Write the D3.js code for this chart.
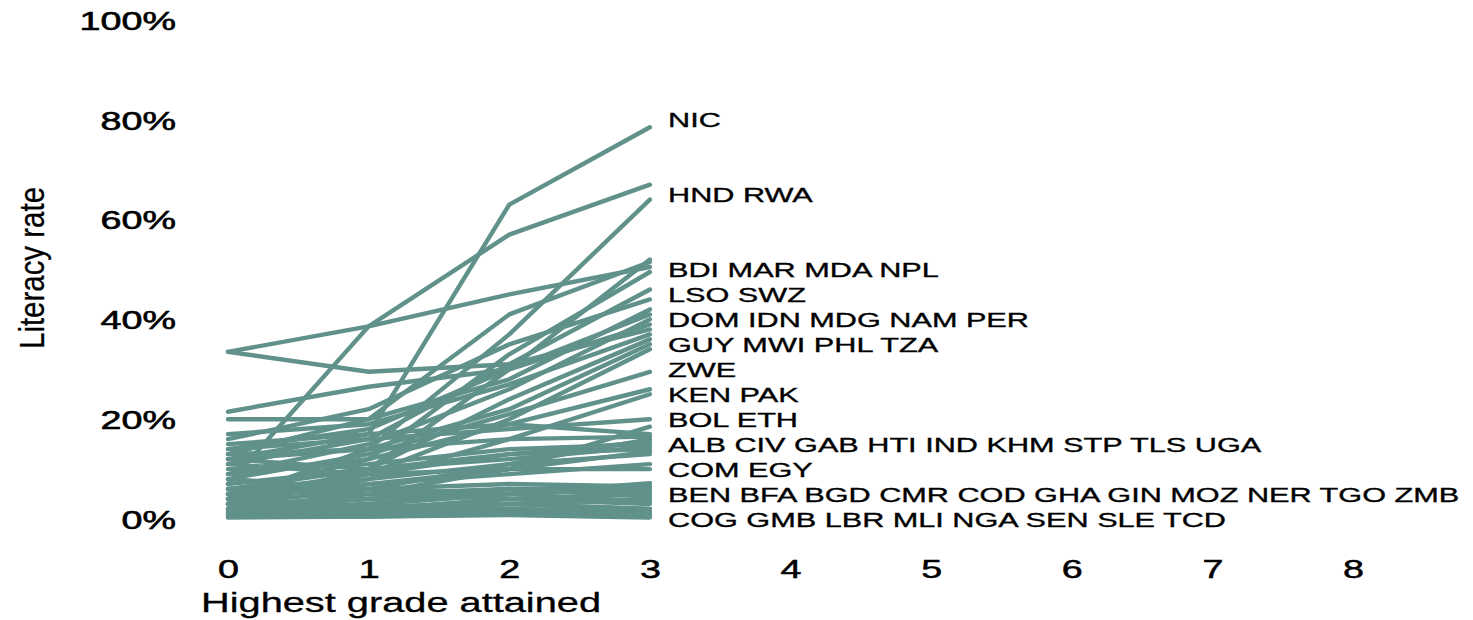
<!DOCTYPE html>
<html>
<head>
<meta charset="utf-8">
<script src="https://cdn.jsdelivr.net/npm/d3@7"></script>
<style>
  html, body { margin: 0; padding: 0; background: #fff; }
  svg { display: block; font-family: "Liberation Sans", Arial, Helvetica, sans-serif; }
</style>
</head>
<body>
<svg id="chart" width="1473" height="620"></svg>
<script>
// ---- data ----
const grades = [0, 1, 2, 3];
const xTicks = [0, 1, 2, 3, 4, 5, 6, 7, 8];
const yTicks = [0, 20, 40, 60, 80, 100];
const countries = ["NIC","HND","RWA","BDI","MAR","MDA","NPL","LSO","SWZ","DOM","IDN","MDG","NAM","PER",
  "GUY","MWI","PHL","TZA","ZWE","KEN","PAK","BOL","ETH","ALB","CIV","GAB","HTI","IND","KHM","STP","TLS","UGA",
  "COM","EGY","BEN","BFA","BGD","CMR","COD","GHA","GIN","MOZ","NER","TGO","ZMB",
  "COG","GMB","LBR","MLI","NGA","SEN","SLE","TCD"];
// literacy rate (%) at highest grade attained 0,1,2,3
const rates = [
  [12, 17, 63, 78.5],   // NIC
  [7, 38.6, 57, 67],    // HND
  [4, 14, 37, 64],      // RWA
  [3, 10, 30, 52],      // BDI
  [33.5, 38.6, 45, 50.5], // MAR
  [13, 20, 41, 51.5],   // MDA
  [5, 12, 33, 49.5],    // NPL
  [33.5, 29.5, 31, 46], // LSO
  [16, 22, 35, 44],     // SWZ
  [20, 20, 28, 42],     // DOM
  [14, 18, 30, 41],     // IDN
  [9, 15, 26, 40],      // MDG
  [21.5, 26.5, 30, 39], // NAM
  [11, 16, 31, 38],     // PER
  [17, 19, 27, 37],     // GUY
  [6, 10, 24, 36],      // MWI
  [12, 14, 22, 35],     // PHL
  [4, 9, 20, 34],       // TZA
  [8, 13, 21, 29.5],    // ZWE
  [9, 12, 19, 26],      // KEN
  [3, 8, 16, 25],       // PAK
  [14, 16, 18, 20],     // BOL
  [2, 5, 10, 18.5],     // ETH
  [15, 17, 19, 17],     // ALB
  [3, 6, 11, 16],       // CIV
  [13, 14, 16, 16.5],   // GAB
  [5, 9, 13, 15.5],     // HTI
  [10, 11, 14, 15],     // IND
  [7, 10, 12, 14.5],    // KHM
  [12, 10, 13, 14],     // STP
  [4, 7, 10, 13.5],     // TLS
  [6, 8, 11, 13],       // UGA
  [5, 7, 9, 11],        // COM
  [11, 9, 10, 10],      // EGY
  [2, 3, 5, 7.2],       // BEN
  [1, 3, 5, 7],         // BFA
  [8, 6, 7, 6.5],       // BGD
  [4, 5, 6, 6],         // CMR
  [3, 4, 6, 5.5],       // COD
  [5, 6, 5, 6],         // GHA
  [1, 2, 4, 5],         // GIN
  [2, 4, 6, 4.5],       // MOZ
  [0.5, 1.5, 3, 4],     // NER
  [3, 4, 5, 3.5],       // TGO
  [6, 5, 4, 3],         // ZMB
  [2, 2, 3, 2],         // COG
  [1, 1.5, 2, 1.5],     // GMB
  [0.5, 1, 2, 1],       // LBR
  [1, 1, 1.5, 0.5],     // MLI
  [2, 2.5, 3, 2],       // NGA
  [0.5, 0.5, 1, 1],     // SEN
  [1.5, 1, 1, 0.5],     // SLE
  [0.3, 0.5, 0.8, 0.3]  // TCD
];

// ---- layout ----
const svg = d3.select("#chart");
const lineColor = "#60918a";
const SX = 1.46; // horizontal stretch of the text in the reference

const x = d3.scaleLinear().domain([0, 8]).range([228, 1353]);
const y = d3.scaleLinear().domain([0, 100]).range([519, 20]);

// lines
const line = d3.line().x((d, i) => x(grades[i])).y(d => y(d));
svg.append("g")
  .selectAll("path")
  .data(rates)
  .join("path")
  .attr("d", d => line(d))
  .attr("fill", "none")
  .attr("stroke", lineColor)
  .attr("stroke-width", 4.4)
  .attr("stroke-linejoin", "round")
  .attr("stroke-linecap", "round");

// labels grouped by 5% bins of grade-3 value
const groups = d3.rollups(
  countries.map((c, i) => ({ c, bin: Math.round(rates[i][3] / 5) * 5 })),
  v => v.map(d => d.c).sort().join(" "),
  d => d.bin
);
svg.append("g")
  .selectAll("text")
  .data(groups)
  .join("text")
  .attr("transform", d => `translate(668,${y(d[0])}) scale(${SX},1)`)
  .attr("dy", "0.36em")
  .attr("font-size", 21)
  .attr("fill", "#000")
  .attr("stroke", "#000")
  .attr("stroke-width", 0.35)
  .text(d => d[1]);

// y axis
const yAxis = svg.append("g")
  .attr("transform", "translate(176,0)")
  .call(d3.axisLeft(y).tickValues(yTicks).tickFormat(d => d + "%").tickSize(0).tickPadding(0));
yAxis.select(".domain").remove();
yAxis.selectAll("text")
  .attr("x", 0)
  .attr("dy", "0.36em")
  .attr("transform", "scale(1.45,1)")
  .attr("font-size", 26)
  .attr("font-family", "Liberation Sans, Arial, sans-serif")
  .attr("fill", "#000")
  .attr("stroke", "#000")
  .attr("stroke-width", 0.6);

// x axis
const xAxis = svg.append("g")
  .attr("transform", "translate(0,578)")
  .call(d3.axisBottom(x).tickValues(xTicks).tickFormat(d3.format("d")).tickSize(0).tickPadding(0));
xAxis.select(".domain").remove();
xAxis.selectAll("text")
  .attr("y", 0)
  .attr("dy", 0)
  .attr("transform", "scale(1.45,1)")
  .attr("font-size", 26)
  .attr("font-family", "Liberation Sans, Arial, sans-serif")
  .attr("fill", "#000")
  .attr("stroke", "#000")
  .attr("stroke-width", 0.5);

// axis titles
svg.append("text")
  .attr("x", 201)
  .attr("y", 612)
  .attr("font-size", 27)
  .attr("textLength", 400)
  .attr("lengthAdjust", "spacingAndGlyphs")
  .attr("fill", "#000")
  .attr("stroke", "#000")
  .attr("stroke-width", 0.3)
  .text("Highest grade attained");

svg.append("text")
  .attr("transform", "translate(44,268) rotate(-90) scale(1,1.4)")
  .attr("text-anchor", "middle")
  .attr("font-size", 25)
  .attr("textLength", 162)
  .attr("lengthAdjust", "spacingAndGlyphs")
  .attr("fill", "#000")
  .attr("stroke", "#000")
  .attr("stroke-width", 0.2)
  .text("Literacy rate");
</script>
</body>
</html>
